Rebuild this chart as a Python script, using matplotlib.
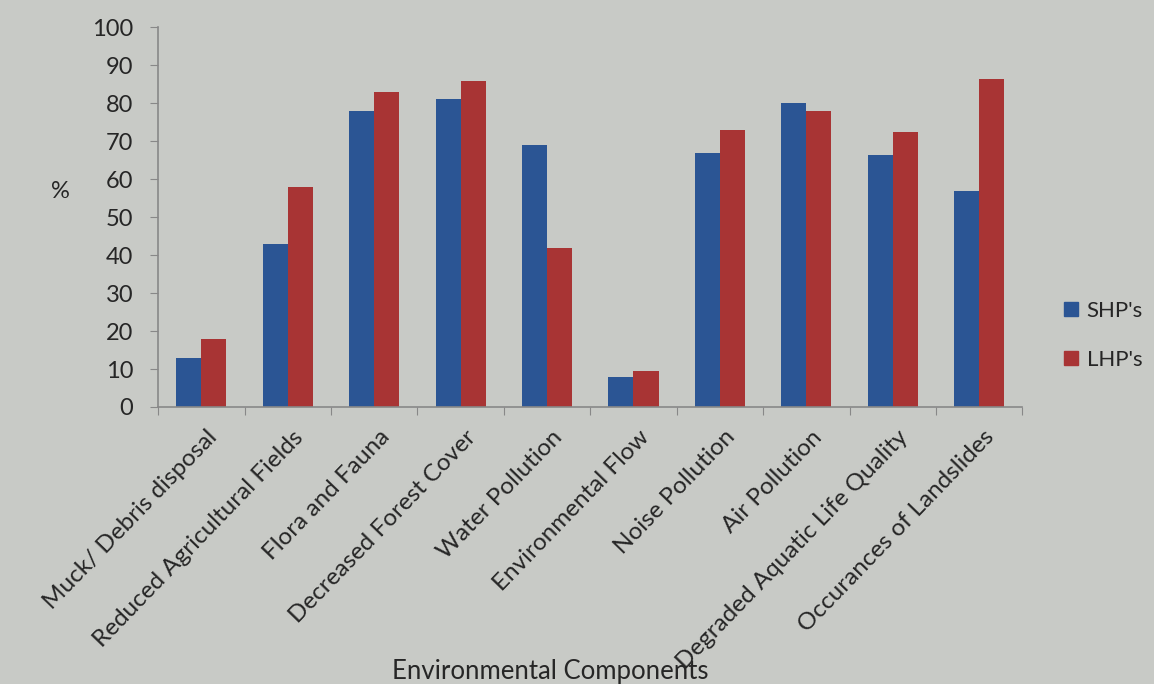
import matplotlib
matplotlib.use("Agg")
import matplotlib.pyplot as plt
import numpy as np
from matplotlib.patches import Patch

categories = ["Muck/ Debris disposal", "Reduced Agricultural Fields", "Flora and Fauna",
              "Decreased Forest Cover", "Water Pollution", "Environmental Flow",
              "Noise Pollution", "Air Pollution", "Degraded Aquatic Life Quality",
              "Occurances of Landslides"]
shp = [13, 43, 78, 81, 69, 8, 67, 80, 66.5, 57]
lhp = [18, 58, 83, 86, 42, 9.5, 73, 78, 72.5, 86.5]
yticks = list(range(0, 101, 10))

plt.rcParams['font.family'] = ['Lato', 'DejaVu Sans']

bg = "#c8cac6"
blue = "#2b5594"
red = "#a83434"
txt = "#262626"

fig = plt.figure(figsize=(11.54, 6.84), dpi=100, facecolor=bg)
ax = fig.add_axes([0.137, 0.405, 0.749, 0.555], facecolor=bg)

x = np.arange(len(categories))
w = 0.29
ax.bar(x - w/2, shp, w, color=blue, label="SHP's")
ax.bar(x + w/2, lhp, w, color=red, label="LHP's")

ax.set_xlim(-0.5, len(categories) - 0.5)
ax.set_ylim(0, 100)
ax.set_yticks(yticks)
ax.set_yticklabels([str(t) for t in yticks], fontsize=17, color=txt)
ax.tick_params(axis="y", direction="out", length=6, color="#888888", pad=12)

ax.set_xticks(np.arange(len(categories) + 1) - 0.5, minor=False)
ax.set_xticklabels([])
ax.tick_params(axis="x", direction="out", length=6, color="#888888")
ax.set_xticks(x + 0.05, minor=True)
ax.set_xticklabels(categories, minor=True, rotation=46, ha="right",
                   rotation_mode="anchor", fontsize=17.5, color=txt)
ax.tick_params(axis="x", which="minor", length=0, pad=14)

for s in ["top", "right"]:
    ax.spines[s].set_visible(False)
for s in ["left", "bottom"]:
    ax.spines[s].set_color("#888888")
    ax.spines[s].set_linewidth(1.2)

fig.text(0.052, 0.72, "%", fontsize=17, color=txt, ha="center", va="center")
fig.text(0.477, 0.0, "Environmental Components", fontsize=18.5, color=txt,
         ha="center", va="bottom")

handles = [Patch(color=blue, label="SHP's"), Patch(color=red, label="LHP's")]
fig.legend(handles=handles, loc="center left", bbox_to_anchor=(0.905, 0.51),
           frameon=False, fontsize=16, handlelength=0.6, handleheight=0.6,
           labelspacing=1.3, handletextpad=0.4, labelcolor=txt)

fig.savefig("out.png", dpi=100, facecolor=bg)
